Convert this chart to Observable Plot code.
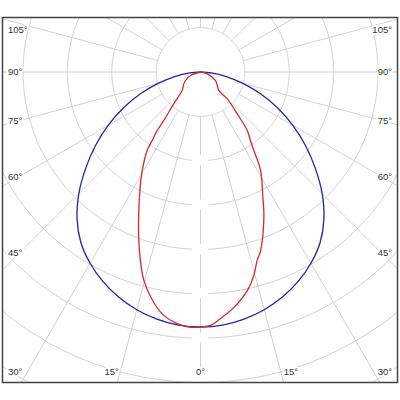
<!DOCTYPE html>
<html>
<head>
<meta charset="utf-8">
<script src="https://cdn.jsdelivr.net/npm/d3@7"></script>
<script src="https://cdn.jsdelivr.net/npm/@observablehq/plot@0.6"></script>
<style>
  html, body { margin: 0; padding: 0; background: #fff; }
  #chart svg { display: block; }
</style>
</head>
<body>
<div id="chart"></div>
<script>
// ---------- DATA (angles in degrees from nadir, negative = left half; intensity in grid units, 100 per ring) ----------
const blueAngles = [-90,-85,-80,-75,-70,-65,-60,-55,-50,-45,-40,-35,-30,-25,-20,-15,-10,-5,0,5,10,15,20,25,30,35,40,45,50,55,60,65,70,75,80,85,90];
const blueValues = [0,25,59,99,144,192,240,289,338,388,433,470,498,521,540,555,566,573,575,573,566,555,540,521,498,470,433,388,338,289,240,192,144,99,59,25,0];

const redAngles = [-90,-70.7,-60.5,-54.8,-44.7,-40,-37.1,-36.5,-35.2,-34.2,-30.6,-27.1,-23.6,-20.5,-17.7,-15.2,-11.9,-8.6,-5.3,-2.2,0,2.3,4.6,8.1,12.1,14.7,16.7,18.6,23.6,26.5,31.4,34.2,36.1,38.6,41.3,44.9,44.7,60.5,75,90];
const redValues = [0,24,39,46,59,94,137,164,189,214,258,300,348,398,446,487,526,555,570,576,575,572,558,536,504,474,444,425,357,315,260,214,191,169,125,85,59,39,16,0];

const ringValues = [100,200,300,400,500,600,700,800];
const spokeAngles = [0,15,30,45,60,75,90,105,120,135,150,165,180,195,210,225,240,255,270,285,300,315,330,345];
const angleTicks = [0,15,30,45,60,75,90,105];
const gapRings = [200,300,400,500,600,700];

// ---------- LAYOUT ----------
const W = 400, H = 400;
const frameL = 2, frameR = 397, frameT = 17, frameB = 382;
const cx = 200, cy = 71.5;          // pixel position of the pole
const k = 0.4435;                   // pixels per intensity unit
const rad = d => d * Math.PI / 180;

const xDomain = [(frameL - cx) / k, (frameR - cx) / k];
const yDomain = [(frameT - cy) / k, (frameB - cy) / k];

// polar -> cartesian (y grows downward, 0 deg = straight down)
const P = (a, r) => ({x: r * Math.sin(rad(a)), y: r * Math.cos(rad(a))});

// grid rings
const ringPts = [];
for (const r of ringValues) for (let a = 0; a <= 360; a += 1) ringPts.push({...P(a, r), ring: r});

// spokes
const spokes = spokeAngles.map(a => {
  const p1 = P(a, ringValues[0]), p2 = P(a, 1000);
  return {x1: p1.x, y1: p1.y, x2: p2.x, y2: p2.y};
});

// gaps on the vertical at ring crossings
const gaps = gapRings.map(r => ({x1: -8 / k, x2: 8 / k, y1: r - 5 / k, y2: r + 5 / k}));

// curves
const blue = blueAngles.map((a, i) => P(a, blueValues[i]));
const red = redAngles.map((a, i) => P(a, redValues[i]));

// angle labels
const labelRows = [];
for (const a of angleTicks) {
  for (const side of [-1, 1]) {
    if (a === 0 && side === 1) continue;
    const t = rad(a);
    let px, py, anchor;
    if (a >= 45) {
      py = Math.max(cy + 181 * Math.cos(t) / Math.sin(t), frameT + 12);
      px = side < 0 ? frameL + 5.5 : frameR - 5.5;
      anchor = side < 0 ? "start" : "end";
    } else {
      py = frameB - 10.5;
      const hit = (frameB - cy) * Math.tan(t);
      if (a === 0) { px = cx; anchor = "middle"; }
      else if (hit + 16 > cx - frameL - 8) {
        px = side < 0 ? frameL + 5.5 : frameR - 5.5;
        anchor = side < 0 ? "start" : "end";
      } else {
        px = side < 0 ? cx - hit + 1.5 : cx + hit;
        anchor = side < 0 ? "end" : "start";
      }
    }
    labelRows.push({label: a + "°", x: (px - cx) / k, y: (py - cy) / k, anchor});
  }
}

const gridColor = "#d2d2d2";
const textOpts = {x: "x", y: "y", text: "label", fill: "#333", stroke: "white", strokeWidth: 4,
  fontSize: 9.5, fontFamily: "Liberation Sans, Arial, sans-serif", lineAnchor: "middle"};

const chart = Plot.plot({
  width: W, height: H,
  marginLeft: frameL, marginRight: W - frameR, marginTop: frameT, marginBottom: H - frameB,
  x: {domain: xDomain, range: [frameL, frameR], axis: null},
  y: {domain: yDomain, range: [frameT, frameB], axis: null},
  style: {background: "white", overflow: "visible"},
  marks: [
    Plot.line(ringPts, {x: "x", y: "y", z: "ring", stroke: gridColor, strokeWidth: 1, clip: true}),
    Plot.link(spokes, {x1: "x1", y1: "y1", x2: "x2", y2: "y2", stroke: gridColor, strokeWidth: 1, clip: true}),
    Plot.rect(gaps, {x1: "x1", x2: "x2", y1: "y1", y2: "y2", fill: "white"}),
    Plot.line(blue, {x: "x", y: "y", stroke: "#2323a6", strokeWidth: 1.3, curve: "catmull-rom"}),
    Plot.line(red, {x: "x", y: "y", stroke: "#d12b2b", strokeWidth: 1.3, curve: "catmull-rom"}),
    Plot.text(labelRows.filter(d => d.anchor === "start"), {...textOpts, textAnchor: "start"}),
    Plot.text(labelRows.filter(d => d.anchor === "end"), {...textOpts, textAnchor: "end"}),
    Plot.text(labelRows.filter(d => d.anchor === "middle"), {...textOpts, textAnchor: "middle"}),
    Plot.frame({stroke: "#444", strokeWidth: 1.5})
  ]
});
document.getElementById("chart").appendChild(chart);
</script>
</body>
</html>
